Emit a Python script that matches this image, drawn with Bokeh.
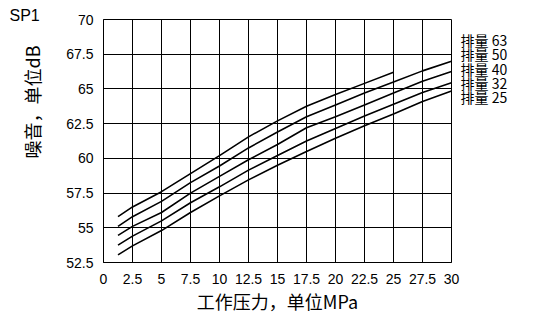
from bokeh.plotting import figure
from bokeh.models import Range1d, FixedTicker, LinearAxis, Title
from bokeh.embed import file_html
from bokeh.resources import INLINE

# ---- data ----
pressure = [1.25, 2.5, 5, 7.5, 10, 12.5, 15, 17.5, 20, 22.5, 25, 27.5, 30]
series_names = ["63", "50", "40", "32", "25"]
noise_63 = [55.8, 56.5, 57.6, 58.9, 60.2, 61.55, 62.7, 63.75, 64.6, 65.4, 66.2]
noise_50 = [55.1, 55.8, 56.9, 58.25, 59.45, 60.75, 61.9, 63.0, 63.85, 64.7, 65.5, 66.3, 67.0]
noise_40 = [54.45, 55.1, 56.1, 57.5, 58.7, 59.9, 61.0, 62.2, 63.0, 63.85, 64.7, 65.55, 66.25]
noise_32 = [53.75, 54.4, 55.5, 56.8, 57.95, 59.15, 60.2, 61.25, 62.15, 63.05, 63.9, 64.75, 65.45]
noise_25 = [53.05, 53.7, 54.8, 56.1, 57.3, 58.45, 59.5, 60.5, 61.45, 62.35, 63.2, 64.1, 64.85]
series_values = [noise_63, noise_50, noise_40, noise_32, noise_25]

x_ticks = [0, 2.5, 5, 7.5, 10, 12.5, 15, 17.5, 20, 22.5, 25, 27.5, 30]
x_tick_labels = ["0", "2.5", "5", "7.5", "10", "12.5", "15", "17.5", "20", "22.5", "25", "27.5", "30"]
y_ticks = [52.5, 55, 57.5, 60, 62.5, 65, 67.5, 70]
y_tick_labels = ["52.5", "55", "57.5", "60", "62.5", "65", "67.5", "70"]

title_text = "SP1"
x_title = "工作压力，单位MPa"
y_title = "噪音，单位dB"
legend_prefix = "排量 "
# vertical anchor positions (in dB units) of the right-hand series labels
legend_anchor = [68.5, 67.5, 66.45, 65.45, 64.4]

TICK_FONT = "Liberation Sans"
CJK_FONT = "Noto Sans CJK SC"

p = figure(width=537, height=316, output_backend="svg", toolbar_location=None,
           x_range=Range1d(0, 30), y_range=Range1d(52.5, 70),
           min_border_left=103, min_border_right=86, min_border_top=19, min_border_bottom=54)
p.background_fill_color = "white"
p.border_fill_color = "white"
p.outline_line_color = "black"
p.outline_line_width = 1

for ax in (p.xaxis[0], p.yaxis[0]):
    ax.major_tick_line_color = None
    ax.minor_tick_line_color = None
    ax.axis_line_color = "black"
    ax.major_label_text_font = TICK_FONT
    ax.major_label_text_font_size = "14px"
    ax.major_label_text_color = "black"

p.xaxis[0].ticker = FixedTicker(ticks=x_ticks)
p.xaxis[0].major_label_overrides = {t: l for t, l in zip(x_ticks, x_tick_labels)}
p.xaxis[0].major_label_standoff = 5
p.xaxis[0].axis_label = x_title
p.xaxis[0].axis_label_text_font = CJK_FONT
p.xaxis[0].axis_label_text_font_style = "normal"
p.xaxis[0].axis_label_text_font_size = "18px"
p.xaxis[0].axis_label_standoff = 1
p.xaxis[0].axis_label_text_color = "black"

p.yaxis[0].ticker = FixedTicker(ticks=y_ticks)
p.yaxis[0].major_label_overrides = {t: l for t, l in zip(y_ticks, y_tick_labels)}
p.yaxis[0].major_label_standoff = 4

p.xgrid[0].ticker = FixedTicker(ticks=x_ticks)
p.ygrid[0].ticker = FixedTicker(ticks=y_ticks)
for g in (p.xgrid[0], p.ygrid[0]):
    g.grid_line_color = "black"
    g.grid_line_width = 1
    g.grid_line_alpha = 1

for vals in series_values:
    p.line(pressure[:len(vals)], vals, line_color="black", line_width=1.6)

# right-hand series labels as an extra axis
right_ax = LinearAxis(ticker=FixedTicker(ticks=legend_anchor),
                      major_label_overrides={t: legend_prefix + n for t, n in zip(legend_anchor, series_names)})
right_ax.axis_line_color = None
right_ax.major_tick_line_color = None
right_ax.minor_tick_line_color = None
right_ax.major_label_standoff = 3
right_ax.major_label_text_font = CJK_FONT
right_ax.major_label_text_font_size = "14px"
right_ax.major_label_text_color = "black"
p.add_layout(right_ax, "right")

# rotated y title
p.add_layout(Title(text=y_title, align="left", offset=104, standoff=34, vertical_align="top",
                   text_font=CJK_FONT, text_font_size="18px", text_font_style="normal",
                   text_color="black"), "left")
# SP1 caption
p.add_layout(Title(text=title_text, align="left", offset=-94, standoff=-8,
                   text_font=TICK_FONT, text_font_size="16px", text_font_style="normal",
                   text_color="black"), "above")

open("out.html", "w").write(file_html(p, INLINE))
